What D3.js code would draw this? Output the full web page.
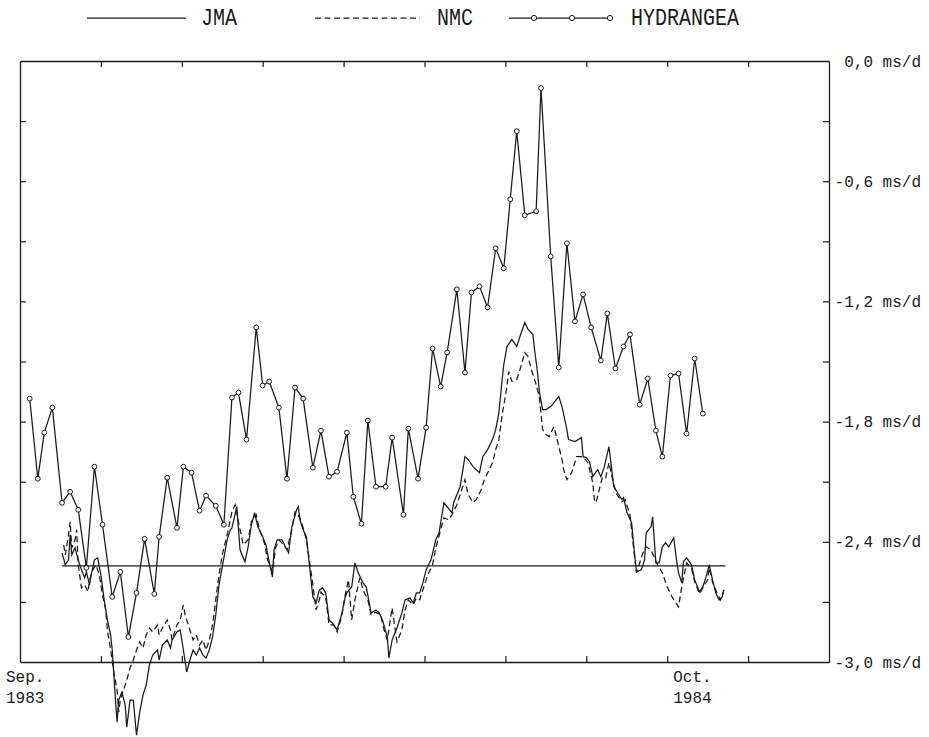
<!DOCTYPE html>
<html>
<head>
<meta charset="utf-8">
<script src="https://cdn.jsdelivr.net/npm/d3@7"></script>
<style>
  html, body { margin: 0; background: #fff; }
  svg { display: block; }
  text { font-family: "Liberation Mono", "DejaVu Sans Mono", monospace; fill: #1a1a1a; }
</style>
</head>
<body>
<svg id="chart" width="929" height="737"></svg>
<script>
// Days counted from 1 Sep 1983; values in ms/d (excess length of day).
const jmaDays = [26,28,30,31,32,34,36,38,40,41,43,44,46,48,50,52,54,56,57,59,60,61,63,65,66,68,70,72,74,76,78,80,82,85,86,88,91,93,94,97,99,101,103,105,107,109,111,113,115,117,119,121,123,125,128,130,131,134,136,139,141,143,145,147,150,152,154,156,157,159,162,164,166,168,171,172,173,175,177,179,181,183,185,187,189,191,193,196,199,201,202,205,207,209,212,214,217,220,222,224,227,228,230,233,236,238,241,243,245,247,249,251,254,257,259,261,262,264,267,268,272,275,277,280,284,286,289,292,294,296,298,299,301,304,307,309,312,314,317,318,320,321,323,325,328,330,333,335,338,339,343,347,348,350,352,354,357,359,361,364,365,367,369,372,373,375,378,380,381,384,386,387,390,391,393,395,397,399,401,404,406,407,409,410,412,415,417,420,422,424,426,428,430,432,434,435];
const jmaValues = [-2.455,-2.515,-2.49,-2.365,-2.465,-2.43,-2.49,-2.54,-2.58,-2.55,-2.615,-2.565,-2.49,-2.48,-2.565,-2.69,-2.79,-2.865,-2.94,-3.19,-3.30,-3.19,-3.15,-3.215,-3.325,-3.19,-3.19,-3.365,-3.25,-3.165,-3.115,-3.015,-2.965,-2.94,-2.99,-2.915,-2.89,-2.93,-2.89,-2.85,-2.84,-2.94,-3.05,-2.99,-2.94,-2.965,-2.93,-2.965,-2.98,-2.94,-2.875,-2.765,-2.615,-2.525,-2.39,-2.34,-2.33,-2.225,-2.44,-2.50,-2.425,-2.315,-2.255,-2.325,-2.375,-2.415,-2.50,-2.575,-2.44,-2.39,-2.39,-2.425,-2.455,-2.325,-2.24,-2.225,-2.29,-2.34,-2.375,-2.525,-2.675,-2.705,-2.64,-2.63,-2.655,-2.79,-2.805,-2.84,-2.755,-2.675,-2.655,-2.625,-2.505,-2.555,-2.605,-2.625,-2.755,-2.74,-2.755,-2.79,-2.875,-2.98,-2.89,-2.83,-2.755,-2.69,-2.68,-2.705,-2.655,-2.655,-2.605,-2.54,-2.49,-2.39,-2.355,-2.255,-2.205,-2.225,-2.255,-2.205,-2.125,-1.975,-1.99,-2.025,-2.055,-1.975,-1.94,-1.89,-1.84,-1.755,-1.59,-1.515,-1.425,-1.39,-1.425,-1.375,-1.305,-1.34,-1.365,-1.44,-1.565,-1.65,-1.74,-1.74,-1.725,-1.705,-1.675,-1.725,-1.84,-1.89,-1.90,-1.88,-1.975,-1.98,-2.00,-2.075,-2.04,-2.075,-2.03,-1.925,-1.99,-2.125,-2.15,-2.19,-2.18,-2.25,-2.305,-2.475,-2.55,-2.54,-2.49,-2.355,-2.325,-2.275,-2.505,-2.505,-2.425,-2.405,-2.425,-2.38,-2.505,-2.555,-2.605,-2.50,-2.48,-2.515,-2.59,-2.65,-2.625,-2.575,-2.515,-2.59,-2.655,-2.69,-2.675,-2.64];

const nmcDays = [27,28,30,31,32,34,35,36,38,40,42,43,45,47,49,51,53,54,56,58,60,61,62,64,66,68,70,72,74,76,78,80,82,85,86,88,91,93,94,97,99,101,102,105,107,109,111,113,115,117,119,121,123,125,128,130,131,133,136,138,141,143,146,148,151,153,156,158,160,163,165,168,170,173,175,177,179,181,183,185,186,189,191,194,196,199,201,203,205,207,210,212,215,217,220,223,225,227,230,231,233,236,238,240,243,245,247,250,252,255,257,260,262,265,267,270,272,275,277,280,282,285,287,290,292,294,296,298,301,302,304,307,309,312,314,316,319,321,323,325,327,330,332,335,336,338,341,344,348,351,354,355,356,358,360,362,364,367,369,372,374,377,379,381,385,387,390,394,397,400,403,407,409,412,415,417,420,422,425,426,428,431,433,435];
const nmcValues = [-2.415,-2.465,-2.365,-2.30,-2.43,-2.39,-2.34,-2.515,-2.63,-2.615,-2.65,-2.59,-2.54,-2.515,-2.565,-2.665,-2.74,-2.84,-2.94,-3.05,-3.14,-3.25,-3.19,-3.14,-3.09,-3.03,-2.99,-2.94,-2.90,-2.93,-2.865,-2.83,-2.85,-2.815,-2.865,-2.83,-2.79,-2.84,-2.89,-2.815,-2.79,-2.715,-2.765,-2.84,-2.89,-2.865,-2.915,-2.89,-2.94,-2.89,-2.815,-2.69,-2.565,-2.465,-2.365,-2.29,-2.25,-2.215,-2.34,-2.415,-2.39,-2.30,-2.265,-2.34,-2.405,-2.49,-2.55,-2.43,-2.39,-2.415,-2.44,-2.34,-2.25,-2.28,-2.33,-2.39,-2.50,-2.615,-2.74,-2.69,-2.65,-2.68,-2.815,-2.815,-2.85,-2.765,-2.665,-2.59,-2.79,-2.69,-2.58,-2.64,-2.69,-2.765,-2.75,-2.77,-2.84,-2.89,-2.73,-2.79,-2.90,-2.84,-2.74,-2.69,-2.715,-2.68,-2.69,-2.615,-2.565,-2.515,-2.43,-2.34,-2.28,-2.29,-2.265,-2.215,-2.165,-2.09,-2.165,-2.205,-2.19,-2.14,-2.09,-2.04,-2.005,-1.94,-1.89,-1.765,-1.625,-1.55,-1.60,-1.59,-1.54,-1.455,-1.475,-1.54,-1.615,-1.68,-1.84,-1.865,-1.875,-1.825,-1.89,-1.99,-2.04,-2.09,-2.055,-1.975,-1.975,-2.005,-2.105,-2.19,-2.205,-2.14,-2.075,-2.08,-2.005,-2.115,-2.165,-2.20,-2.19,-2.265,-2.415,-2.555,-2.455,-2.425,-2.44,-2.515,-2.555,-2.625,-2.675,-2.725,-2.625,-2.505,-2.53,-2.60,-2.66,-2.63,-2.59,-2.53,-2.60,-2.66,-2.69,-2.64];

const hydDays = [6,11,15,20,26,31,36,41,46,51,57,62,67,72,77,83,86,91,97,101,106,111,115,121,126,131,135,140,146,150,154,160,165,170,175,181,186,191,196,202,206,211,215,220,226,230,237,240,246,251,255,260,264,270,275,279,284,289,294,299,303,307,312,319,322,328,333,338,343,348,353,359,363,368,373,377,383,388,393,397,402,407,412,417,422];
const hydValues = [-1.685,-2.085,-1.855,-1.73,-2.205,-2.15,-2.24,-2.53,-2.025,-2.315,-2.675,-2.55,-2.875,-2.655,-2.385,-2.66,-2.375,-2.08,-2.33,-2.025,-2.055,-2.245,-2.17,-2.22,-2.315,-1.68,-1.655,-1.89,-1.33,-1.62,-1.60,-1.73,-2.085,-1.63,-1.685,-2.03,-1.845,-2.075,-2.05,-1.855,-2.175,-2.31,-1.795,-2.125,-2.125,-1.88,-2.265,-1.835,-2.085,-1.83,-1.435,-1.625,-1.455,-1.14,-1.555,-1.155,-1.125,-1.23,-0.935,-1.035,-0.69,-0.35,-0.77,-0.75,-0.135,-0.975,-1.53,-0.91,-1.30,-1.165,-1.33,-1.495,-1.26,-1.535,-1.425,-1.365,-1.715,-1.585,-1.845,-1.975,-1.57,-1.56,-1.86,-1.485,-1.76];

// Reference level drawn across the JMA period
const referenceLevel = -2.52;
const referenceSpan = [26, 436];

const yTickValues = [0, -0.3, -0.6, -0.9, -1.2, -1.5, -1.8, -2.1, -2.4, -2.7, -3.0];
const yTickLabels = {"0": "0,0 ms/d", "-0.6": "-0,6 ms/d", "-1.2": "-1,2 ms/d", "-1.8": "-1,8 ms/d", "-2.4": "-2,4 ms/d", "-3": "-3,0 ms/d"};
const xTickValues = [50, 100, 150, 200, 250, 300, 350, 400, 450];
const xLabelDays = [0, 400];
const xLabelLines = [["Sep.", "1983"], ["Oct.", "1984"]];
const legendNames = ["JMA", "NMC", "HYDRANGEA"];

const svg = d3.select("#chart");
const x = d3.scaleLinear().domain([0, 500]).range([20, 829]);
const y = d3.scaleLinear().domain([-3, 0]).range([662, 61]);

const ink = "#1a1a1a";
const lw = 1.25;

// Frame with inward ticks on all four sides
function styleAxis(g) {
  g.selectAll("path.domain").attr("stroke", ink).attr("stroke-width", 1.3);
  g.selectAll(".tick line").attr("stroke", ink).attr("stroke-width", 1.2);
}
svg.append("g").attr("transform", `translate(0,${y(-3)})`)
  .call(d3.axisBottom(x).tickValues(xTickValues).tickSizeInner(-6).tickSizeOuter(0).tickFormat(""))
  .call(styleAxis);
svg.append("g").attr("transform", `translate(0,${y(0)})`)
  .call(d3.axisTop(x).tickValues(xTickValues).tickSizeInner(-6).tickSizeOuter(0).tickFormat(""))
  .call(styleAxis);
svg.append("g").attr("transform", `translate(${x(0)},0)`)
  .call(d3.axisLeft(y).tickValues(yTickValues.slice(1, -1)).tickSizeInner(-6).tickSizeOuter(0).tickFormat(""))
  .call(styleAxis);
const right = svg.append("g").attr("transform", `translate(${x(500)},0)`)
  .call(d3.axisRight(y).tickValues(yTickValues).tickSizeInner(-6).tickSizeOuter(0)
    .tickFormat(v => yTickLabels[String(+v.toFixed(1))] || ""))
  .call(styleAxis);
right.selectAll(".tick text")
  .attr("x", 92).attr("text-anchor", "end")
  .attr("font-size", 16).attr("fill", ink)
  .attr("font-family", "'Liberation Mono', 'DejaVu Sans Mono', monospace");
right.selectAll(".tick").filter(v => v === 0 || v === -3).select("line").remove();

// Date labels under the axis
xLabelDays.forEach((d, i) => {
  const lx = x(d) + (i === 0 ? -14 : 6);
  const t = svg.append("text").attr("x", lx).attr("y", 682).attr("font-size", 16);
  xLabelLines[i].forEach((line, j) => {
    t.append("tspan").attr("x", lx).attr("dy", j === 0 ? 0 : 21).text(line);
  });
});

// Series
const line = d3.line().x(d => x(d[0])).y(d => y(d[1]));
const zip = (a, b) => a.map((d, i) => [d, b[i]]);

svg.append("line")
  .attr("x1", x(referenceSpan[0])).attr("x2", x(referenceSpan[1]))
  .attr("y1", y(referenceLevel)).attr("y2", y(referenceLevel))
  .attr("stroke", ink).attr("stroke-width", lw);

svg.append("path").datum(zip(nmcDays, nmcValues))
  .attr("d", line).attr("fill", "none").attr("stroke", ink)
  .attr("stroke-width", lw).attr("stroke-dasharray", "6,3.5");

svg.append("path").datum(zip(jmaDays, jmaValues))
  .attr("d", line).attr("fill", "none").attr("stroke", ink).attr("stroke-width", lw);

const hyd = zip(hydDays, hydValues);
svg.append("path").datum(hyd)
  .attr("d", line).attr("fill", "none").attr("stroke", ink).attr("stroke-width", lw);
svg.append("g").selectAll("circle").data(hyd).join("circle")
  .attr("cx", d => x(d[0])).attr("cy", d => y(d[1])).attr("r", 2.4)
  .attr("fill", "#fff").attr("stroke", ink).attr("stroke-width", 1);

// Legend: taller lettering than the axis labels
const ly = 18;
const leg = svg.append("g");
function legendText(tx, s) {
  leg.append("text")
    .attr("transform", `translate(${tx},${ly + 7}) scale(1,1.2)`)
    .attr("font-size", 20).text(s);
}
leg.append("line").attr("x1", 87).attr("x2", 186).attr("y1", ly).attr("y2", ly)
  .attr("stroke", ink).attr("stroke-width", lw);
legendText(201, legendNames[0]);
leg.append("line").attr("x1", 315).attr("x2", 420).attr("y1", ly).attr("y2", ly)
  .attr("stroke", ink).attr("stroke-width", lw).attr("stroke-dasharray", "6,3.5");
legendText(437, legendNames[1]);
leg.append("line").attr("x1", 509).attr("x2", 613).attr("y1", ly).attr("y2", ly)
  .attr("stroke", ink).attr("stroke-width", lw);
leg.selectAll("circle.m").data([534, 572, 610]).join("circle").attr("class", "m")
  .attr("cx", d => d).attr("cy", ly).attr("r", 2.6)
  .attr("fill", "#fff").attr("stroke", ink).attr("stroke-width", 1);
legendText(631, legendNames[2]);
</script>
</body>
</html>
